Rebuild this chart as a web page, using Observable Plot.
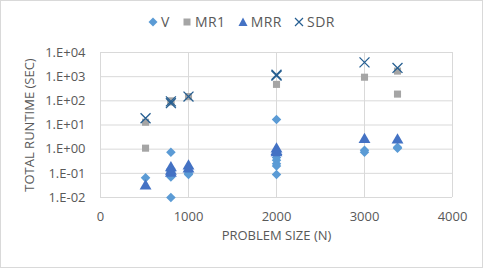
<!DOCTYPE html>
<html><head><meta charset="utf-8">
<script src="https://cdn.jsdelivr.net/npm/d3@7"></script>
<script src="https://cdn.jsdelivr.net/npm/@observablehq/plot@0.6"></script>
<style>
html,body{margin:0;padding:0;background:#fff;}
#wrap{width:483px;height:268px;box-sizing:border-box;border:1px solid #d9d9d9;position:relative;font-family:"Open Sans","Liberation Sans",sans-serif;color:#595959;overflow:hidden;}
#legend{height:39px;display:flex;justify-content:center;align-items:center;padding-top:2px;box-sizing:border-box;font-size:14px;letter-spacing:0.5px;}
#legend .item{display:flex;align-items:center;margin:0 6px;}
#legend svg{margin-right:3px;}
#chart svg{display:block;}
</style></head>
<body>
<div id="wrap"><div id="legend"></div><div id="chart"></div></div>
<script>
// Series data (problem size N, total runtime in seconds)
const seriesNames = ["V", "MR1", "MRR", "SDR"];
const vN   = [512, 800, 800, 800, 800, 800, 800, 800, 1000, 1000, 1000, 2000, 2000, 2000, 2000, 2000, 2000, 2000, 3000, 3000, 3375, 3375];
const vT   = [0.065, 0.75, 0.15, 0.12, 0.1, 0.08, 0.07, 0.01, 0.1, 0.12, 0.09, 17, 0.6, 0.45, 0.35, 0.25, 0.2, 0.09, 0.9, 0.75, 1.1, 1.2];
const mr1N = [512, 512, 800, 800, 1000, 2000, 3000, 3375, 3375];
const mr1T = [13, 1.1, 100, 90, 150, 480, 950, 1700, 190];
const mrrN = [512, 800, 800, 800, 1000, 1000, 2000, 2000, 2000, 3000, 3375];
const mrrT = [0.03, 0.17, 0.12, 0.1, 0.2, 0.15, 1.0, 0.8, 0.7, 2.5, 2.4];
const sdrN = [512, 800, 800, 1000, 2000, 2000, 3000, 3375];
const sdrT = [19, 95, 80, 150, 1200, 1100, 3900, 2300];
const xTicks = [0, 1000, 2000, 3000, 4000];
const yTicks = [0.01, 0.1, 1, 10, 100, 1000, 10000];

const colors = {V: "#5b9bd5", MR1: "#a5a5a5", MRR: "#4472c4", SDR: "#255e91"};
const toRows = (N, T) => N.map((n, i) => ({n, t: T[i]}));
const vRows = toRows(vN, vT), mr1Rows = toRows(mr1N, mr1T), mrrRows = toRows(mrrN, mrrT), sdrRows = toRows(sdrN, sdrT);

const fmt = d => {
  const e = Math.round(Math.log10(d));
  return "1.E" + (e >= 0 ? "+" : "-") + String(Math.abs(e)).padStart(2, "0");
};

const chart = Plot.plot({
  width: 481,
  height: 227,
  marginLeft: 99,
  marginRight: 30,
  marginTop: 12,
  marginBottom: 70,
  style: {fontFamily: '"Open Sans","Liberation Sans",sans-serif', fontSize: "12px", color: "#595959", background: "white"},
  x: {domain: [0, 4000]},
  y: {type: "log", domain: [0.01, 10000]},
  marks: [
    Plot.gridX(xTicks, {stroke: "#d9d9d9", strokeOpacity: 1}),
    Plot.gridY(yTicks, {stroke: "#d9d9d9", strokeOpacity: 1}),
    Plot.axisX(xTicks, {tickSize: 0, tickPadding: 14, tickFormat: d => String(d), label: "PROBLEM SIZE (N)", labelAnchor: "center", labelArrow: "none", labelOffset: 42, fontSize: 13, style: {letterSpacing: "1.8px"}}),
    Plot.axisY(yTicks, {tickSize: 0, tickPadding: 15, tickFormat: fmt, label: "TOTAL RUNTIME (SEC)", labelAnchor: "center", labelArrow: "none", labelOffset: 76, fontSize: 13}),
    Plot.dot(vRows, {x: "n", y: "t", symbol: "diamond2", fill: colors.V, stroke: "none", r: 4.3}),
    Plot.dot(mr1Rows, {x: "n", y: "t", symbol: "square", fill: colors.MR1, stroke: "none", r: 4}),
    Plot.dot(mrrRows, {x: "n", y: "t", symbol: "triangle", fill: colors.MRR, stroke: "none", r: 4.4}),
    Plot.dot(sdrRows, {x: "n", y: "t", symbol: "times", stroke: colors.SDR, fill: "none", strokeWidth: 1.3, r: 4.6})
  ]
});
document.getElementById("chart").appendChild(chart);

// Legend
const legendSymbols = {
  V: `<path d="M5,0.5L9.5,5L5,9.5L0.5,5Z" fill="${colors.V}"/>`,
  MR1: `<rect x="1.5" y="1.5" width="7" height="7" fill="${colors.MR1}"/>`,
  MRR: `<path d="M5,0.5L9.5,9L0.5,9Z" fill="${colors.MRR}"/>`,
  SDR: `<path d="M1,1L9,9M9,1L1,9" stroke="${colors.SDR}" stroke-width="1.2" fill="none"/>`
};
const legend = document.getElementById("legend");
seriesNames.forEach(name => {
  const item = document.createElement("div");
  item.className = "item";
  item.innerHTML = `<svg width="10" height="10" viewBox="0 0 10 10">${legendSymbols[name]}</svg><span>${name}</span>`;
  legend.appendChild(item);
});
</script>
</body></html>
